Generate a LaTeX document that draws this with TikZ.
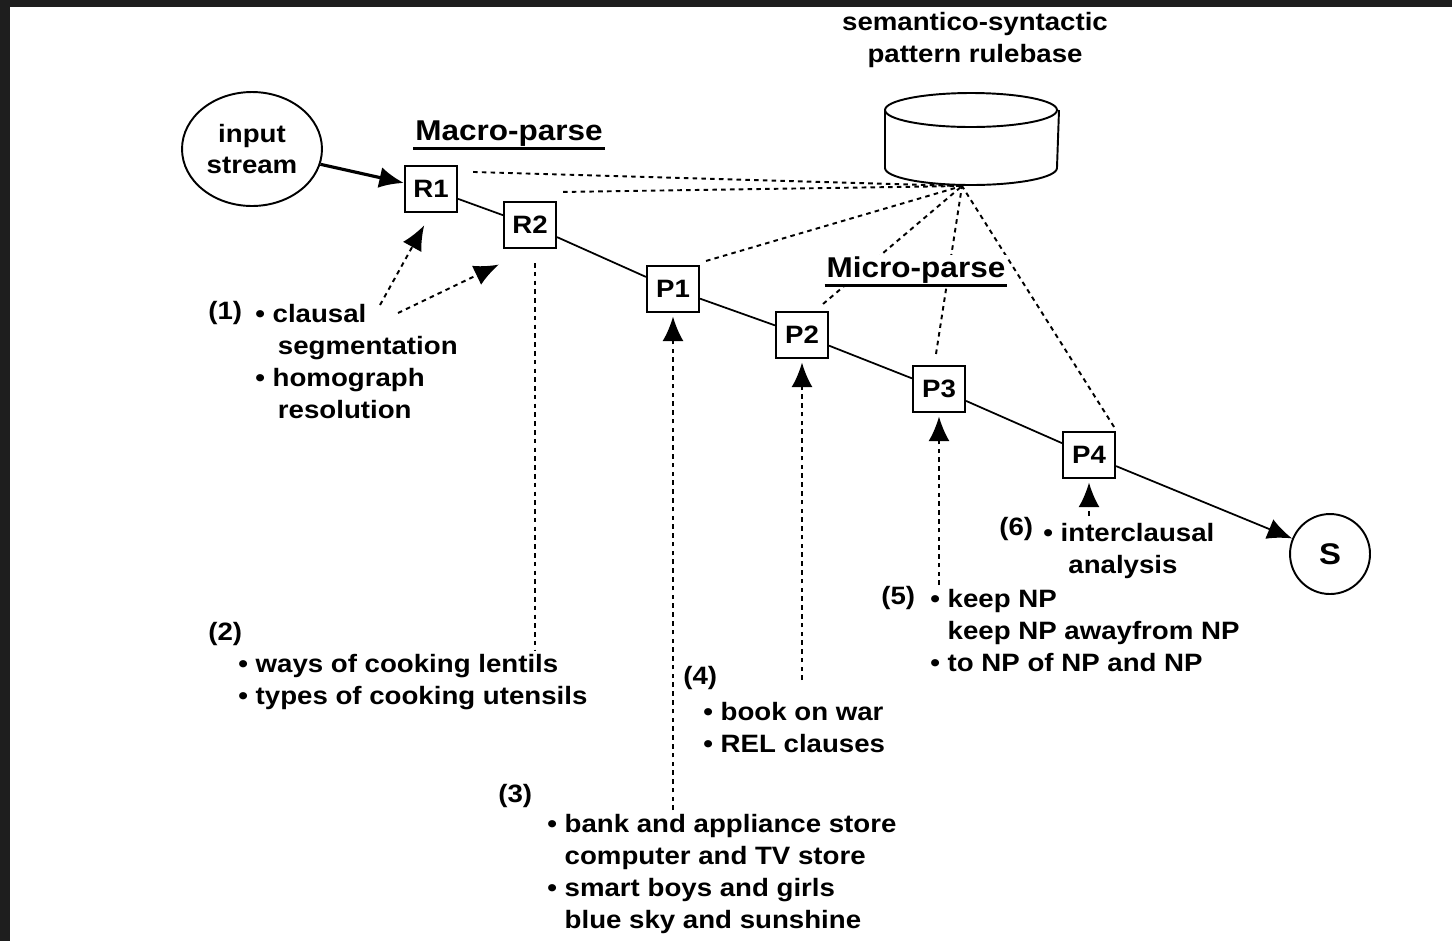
\documentclass[tikz,border=0pt]{standalone}
\usepackage{fontspec}
\setmainfont{Liberation Sans}[FakeStretch=1.1]
\usetikzlibrary{arrows.meta,positioning,shapes.geometric}

\definecolor{framegray}{HTML}{1E1E1E}
\tikzset{
  stage/.style={draw,line width=1.2pt,minimum width=1.04cm,minimum height=0.92cm,inner sep=0pt},
  rule/.style={line width=1.1pt,dash pattern=on 2.6pt off 2.4pt},
  feed/.style={rule,->,shorten >=2pt},
  note/.style={align=left,anchor=base west,inner sep=0pt},
  tag/.style={anchor=base west,inner sep=0pt},
  title/.style={fill=white,inner sep=1pt,font=\bfseries\fontsize{16.3}{19}\selectfont},
}

\begin{document}
\begin{tikzpicture}[x=0.02cm,y=-0.02cm,>={Latex[length=14pt,width=12pt]},
  font=\bfseries\fontsize{14.3}{18.2}\selectfont]
\fill[framegray] (0,0) rectangle (1452,941);
\fill[white] (10,7) rectangle (1452,941);
\useasboundingbox (0,0) rectangle (1452,941);

% rulebase
\node[align=center] (rbt) at (975,40) {semantico-syntactic\\pattern rulebase};
\draw[line width=1.1pt] (971,110) ellipse [x radius=1.72cm,y radius=0.34cm];
\draw[line width=1.1pt] (885,110) -- (885,168) arc [start angle=180,end angle=360,x radius=1.72cm,y radius=0.34cm] -- (1059,110);
\coordinate (rb) at (962,186);

% stages
\node[draw,ellipse,line width=1.1pt,minimum width=2.8cm,minimum height=2.28cm,inner sep=0pt,align=center] (in) at (252,149) {input\\stream};
\node[stage] (R1) at (431,189) {R1};
\node[stage] (R2) at (530,225) {R2};
\node[stage] (P1) at (673,289) {P1};
\node[stage] (P2) at (802,335) {P2};
\node[stage] (P3) at (939,389) {P3};
\node[stage] (P4) at (1089,455) {P4};
\node[draw,circle,line width=1.1pt,minimum size=1.6cm,inner sep=0pt,font=\bfseries\fontsize{17}{20}\selectfont] (S) at (1330,554) {S};

\draw[line width=1.8pt,->] (in) -- (R1);
\draw[line width=1pt] (R1) -- (R2) -- (P1) -- (P2) -- (P3) -- (P4);
\draw[line width=1pt,->] (P4) -- (S);

% links to the rulebase
\draw[rule] ([shift={(15,7)}]R1.north east) -- (rb);
\draw[rule] ([shift={(6,-9)}]R2.north east) -- (rb);
\draw[rule] ([shift={(6,-4)}]P1.north east) -- (rb);
\draw[rule] ([shift={(-6,-7)}]P2.north east) -- (rb);
\draw[rule] ([shift={(-3,-11)}]P3.north) -- (rb);
\draw[rule] ([shift={(-2,-4)}]P4.north east) -- (rb);

\node[title] (macro) at (509,134) {Macro-parse};
\draw[line width=1.7pt] (macro.south west) -- (macro.south east);
\node[title] (micro) at (916,270) {Micro-parse};
\draw[line width=1.7pt] (micro.south west) -- (micro.south east);

% pattern groups
\coordinate (t1a) at (380,305);
\coordinate (t1b) at (398,313);
\coordinate (t2) at (535,650);
\coordinate (t3) at (673,810);
\coordinate (t4) at (802,680);
\coordinate (t5) at (939,585);
\coordinate (t6) at (1089,516);

\draw[feed,shorten >=8pt] (t1a) -- (R1.south);
\draw[feed] (t1b) -- ([shift={(-1,14)}]R2.south west);
\draw[rule,shorten <=8pt] (t2 |- R2.south) -- (t2);
\draw[feed] (t3) -- (P1);
\draw[feed] (t4) -- (P2);
\draw[feed] (t5) -- (P3);
\draw[feed] (t6) -- (P4);

\node[tag] (g1) at (208,319) {(1)};
\node[note] (n1) at (255,418) {• clausal\\\hphantom{• }\kern3pt segmentation\\• homograph\\\hphantom{• }\kern3pt resolution};
\node[tag] (g2) at (208,640) {(2)};
\node[note] (n2) at (238,704) {• ways of cooking lentils\\• types of cooking utensils};
\node[tag] (g3) at (498,802) {(3)};
\node[note] (n3) at (547,928) {• bank and appliance store\\\hphantom{• }computer and TV store\\• smart boys and girls\\\hphantom{• }blue sky and sunshine};
\node[tag] (g4) at (683,684) {(4)};
\node[note] (n4) at (703,752) {• book on war\\• REL clauses};
\node[tag] (g5) at (881,604) {(5)};
\node[note] (n5) at (930,671) {• keep NP\\\hphantom{• }keep NP awayfrom NP\\• to NP of NP and NP};
\node[tag] (g6) at (999,535) {(6)};
\node[note] (n6) at (1043,573) {• interclausal\\\hphantom{• i}analysis};
\end{tikzpicture}
\end{document}
